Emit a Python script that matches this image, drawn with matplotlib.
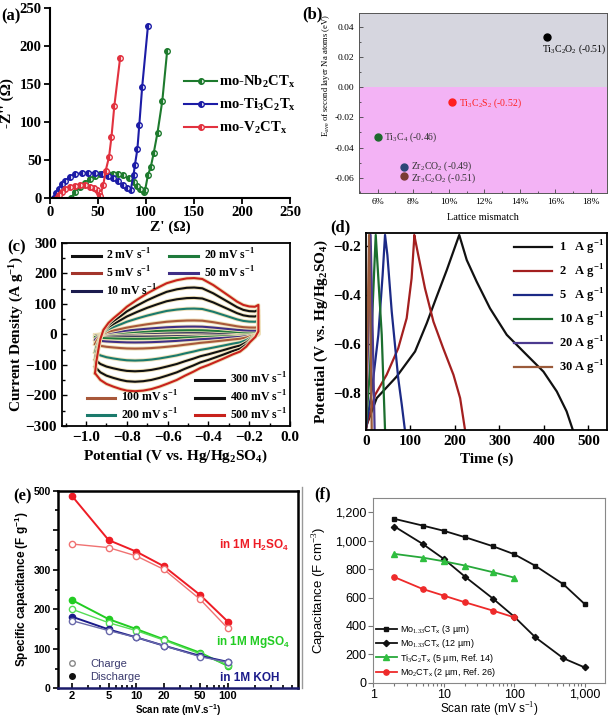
import matplotlib
matplotlib.use('Agg')
import matplotlib.pyplot as plt
import matplotlib.patheffects as pe
from matplotlib.lines import Line2D
from matplotlib.ticker import FuncFormatter, NullFormatter, LogLocator, MultipleLocator, FixedLocator

plt.rcParams['font.family'] = 'Liberation Serif'
plt.rcParams['mathtext.fontset'] = 'custom'
plt.rcParams['mathtext.rm'] = 'Liberation Serif'
plt.rcParams['mathtext.bf'] = 'Liberation Serif:bold'
plt.rcParams['mathtext.it'] = 'Liberation Sans'
plt.rcParams['mathtext.sf'] = 'Liberation Sans:bold'

# ══════════════════════════════════════════════
# DATOS
# ══════════════════════════════════════════════

# (a) Nyquist
nb_re = [22, 26, 31, 36, 42, 47, 52, 59, 66, 71, 76, 82, 87, 91, 94, 98, 99, 102, 105, 108, 112, 117, 122]
nb_im = [0, 8, 15, 20, 25, 29, 32, 33, 32, 31, 30, 26, 21, 16, 12, 8, 10, 30, 41, 59, 86, 128, 193]
ti_re = [4, 6, 9, 12, 16, 21, 26, 33, 40, 47, 54, 60, 66, 71, 76, 80, 84, 87, 88.5, 91, 93, 96, 102]
ti_im = [0, 6, 12, 18, 23, 28, 31, 33, 33, 33, 32, 29, 26, 22, 17, 13, 10, 30, 44, 64, 96, 146, 226]
v_re = [7, 9, 12, 16, 21, 26, 31, 36, 42, 46, 49, 51, 52, 55.5, 58, 61.5, 64, 67, 73]
v_im = [0, 4, 8, 12, 14.5, 16, 17, 17, 15, 13, 10, 6, 2, 17, 36, 54, 80, 121, 184]

# (b) energia vs mismatch
mismatch = [15.5, 10.2, 6.0, 7.5, 7.5]
e_ave = [0.033, -0.010, -0.033, -0.053, -0.059]
nombres_b = ['Ti$_\\mathrm{3}$C$_\\mathrm{2}$O$_\\mathrm{2}$ (-0.51)',
             'Ti$_\\mathrm{3}$C$_\\mathrm{2}$S$_\\mathrm{2}$ (-0.52)',
             'Ti$_\\mathrm{3}$C$_\\mathrm{4}$ (-0.46)',
             'Zr$_\\mathrm{2}$CO$_\\mathrm{2}$ (-0.49)',
             'Zr$_\\mathrm{3}$C$_\\mathrm{2}$O$_\\mathrm{2}$ (-0.51)']

# (c) CV, curva de 500 mV/s y corriente pico de cada velocidad
cv_x_up = [-0.956, -0.95, -0.94, -0.93, -0.915, -0.89, -0.866, -0.83, -0.80, -0.75, -0.70, -0.65, -0.605,
           -0.555, -0.506, -0.47, -0.43, -0.376, -0.335, -0.294, -0.26, -0.229, -0.20, -0.172, -0.155]
cv_y_up = [-127, -90, -51, -15, 15, 38, 53, 73, 91, 114, 135, 153, 168, 178, 184, 185, 182, 162, 143, 124,
           108, 97, 92, 91, 97]
cv_x_dn = [-0.956, -0.93, -0.90, -0.866, -0.83, -0.80, -0.76, -0.72, -0.68, -0.64, -0.60, -0.555, -0.515,
           -0.474, -0.44, -0.40, -0.33, -0.28, -0.245, -0.215, -0.196, -0.17, -0.155]
cv_y_dn = [-127, -149, -162, -171, -179, -184, -186, -184, -179, -171, -161, -149, -135, -122, -110, -100,
           -80, -65, -56, -40, -25, -8, 10]
rates = [2, 5, 10, 20, 50, 100, 200, 300, 400, 500]
picos = [2, 4, 7, 14, 26, 46, 85, 120, 154, 185]
colores_c = ['#111111', '#a3352b', '#1c1c4e', '#1f7a3c', '#3f2f86', '#a8583a', '#1b7a6c',
             '#111111', '#111111', '#c8221c']

# (d) GCD
t_1 = [0, 2.2, 24.7, 69.6, 110.8, 137, 159.4, 182, 200.6, 210, 226.8, 249, 279, 316.6, 361.5, 399, 429, 451, 465]
v_1 = [-0.95, -0.929, -0.820, -0.732, -0.630, -0.515, -0.406, -0.298, -0.203, -0.155, -0.257, -0.345,
       -0.454, -0.562, -0.644, -0.712, -0.793, -0.874, -0.95]
t_2 = [0, 4.5, 21, 47, 73, 92, 103, 108.5, 109, 118, 133, 152, 174, 197, 212, 223]
v_2 = [-0.95, -0.915, -0.807, -0.725, -0.617, -0.494, -0.332, -0.18, -0.155, -0.237, -0.372, -0.508,
       -0.617, -0.725, -0.82, -0.95]
t_5 = [0, 0.7, 13.5, 28.4, 38, 43.4, 48.7, 58.4, 73, 81, 88]
v_5 = [-0.95, -0.942, -0.793, -0.562, -0.318, -0.155, -0.237, -0.467, -0.739, -0.847, -0.95]
t_10 = [0, 9.7, 22.5, 36, 43.4]
v_10 = [-0.95, -0.698, -0.155, -0.562, -0.95]
t_20 = [0, 5, 11, 16, 20]
v_20 = [-0.95, -0.62, -0.155, -0.58, -0.95]
t_30 = [0, 3.5, 7.5, 11, 13.5]
v_30 = [-0.95, -0.60, -0.155, -0.58, -0.95]

# (e) capacitancia especifica
scan_e = [2, 5, 10, 20, 50, 100]
h2so4_dis = [486, 375, 346, 309, 236, 169]
h2so4_ch = [365, 356, 335, 301, 225, 152]
mgso4_dis = [223, 175, 150, 124, 90, 57]
mgso4_ch = [200, 166, 146, 122, 87, 59]
koh_dis = [181, 149, 129, 108, 82, 67]
koh_ch = [171, 146, 129, 108, 80, 66]

# (f) capacitancia volumetrica
scan_f = [2, 5, 10, 20, 50, 100, 200, 500, 1000]
mo_3um = [1155, 1108, 1071, 1026, 962, 906, 824, 694, 555]
mo_12um = [1101, 979, 873, 748, 593, 466, 320, 172, 108]
scan_f2 = [2, 5, 10, 20, 50, 100]
ti3c2 = [908, 882, 856, 826, 779, 741]
mo2c = [744, 661, 614, 567, 508, 461]

# ══════════════════════════════════════════════
# FIGURA
# ══════════════════════════════════════════════

W, H = 612, 719
fig = plt.figure(figsize=(6.12, 7.19), dpi=100)


def rect(l, t, r, b):
    return [l / W, 1 - b / H, (r - l) / W, (b - t) / H]


def negrita(ax, fam=None):
    for l in ax.get_xticklabels() + ax.get_yticklabels():
        l.set_fontweight('bold')
        if fam:
            l.set_family(fam)


def etiqueta(x, y, s, fam='Liberation Serif'):
    fig.text(x / W, 1 - y / H, s, fontsize=12, fontweight='bold', family=fam, ha='center', va='center')


# ---------- (a) ----------
ax = fig.add_axes(rect(50, 8, 290, 198))
for xr, yi, c, lab in [(nb_re, nb_im, '#1d7a2d', 'mo-Nb$_\\mathbf{2}$CT$_\\mathbf{x}$'),
                       (ti_re, ti_im, '#1c1ca6', 'mo-Ti$_\\mathbf{3}$C$_\\mathbf{2}$T$_\\mathbf{x}$'),
                       (v_re, v_im, '#e2323f', 'mo-V$_\\mathbf{2}$CT$_\\mathbf{x}$')]:
    ax.plot(xr, yi, '-o', color=c, lw=1.5, ms=4, fillstyle='left', markerfacecoloralt='white',
            mec=c, mew=1, label=lab)
ax.set_xlim(0, 250)
ax.set_ylim(0, 250)
ax.set_xticks(range(0, 251, 50))
ax.set_yticks(range(0, 251, 50))
ax.spines[['top', 'right']].set_visible(False)
ax.spines[['left', 'bottom']].set_linewidth(1.5)
ax.tick_params(direction='out', width=1.3, length=4, labelsize=10.5, pad=2)
negrita(ax)
ax.set_xlabel("Z' (Ω)", fontsize=11, fontweight='bold', labelpad=1)
ax.set_ylabel("-Z'' (Ω)", fontsize=11, fontweight='bold', labelpad=4)
ax.legend(loc='center left', bbox_to_anchor=(0.53, 0.49), frameon=False,
          prop={'weight': 'bold', 'size': 10.5}, handlelength=2.2, handletextpad=0.2,
          labelspacing=0.45, borderpad=0)
etiqueta(11, 16, '(a)')

# ---------- (b) ----------
ax = fig.add_axes(rect(359, 13, 607, 193))
ax.axhspan(0, 0.05, color='#d6d6df', lw=0)
ax.axhspan(-0.07, 0, color='#f3b3f5', lw=0)
col_b = ['#000000', '#ff1f1f', '#1c6a2c', '#2c4677', '#7a3b33']
txt_b = ['#000000', '#ff1f1f', '#333333', '#333333', '#333333']
off_b = [(-3, -9), (4.5, -0.5), (4.5, -0.5), (4.5, 1), (4.5, -1.5)]
for x, y, n, c, tc, o in zip(mismatch, e_ave, nombres_b, col_b, txt_b, off_b):
    ax.plot(x, y, 'o', color=c, ms=5)
    ax.annotate(n, (x, y), xytext=o, textcoords='offset points', fontsize=7, color=tc,
                va='center', ha='left')
ax.set_xlim(4.95, 18.9)
ax.set_ylim(-0.07, 0.049)
ax.set_xticks([6, 8, 10, 12, 14, 16, 18])
ax.set_xticklabels([f'{v}%' for v in [6, 8, 10, 12, 14, 16, 18]])
ax.xaxis.set_minor_locator(MultipleLocator(1))
ax.set_yticks([0.04, 0.02, 0.0, -0.02, -0.04, -0.06])
ax.set_yticklabels(['0.04', '0.02', '0.00', '-0.02', '-0.04', '-0.06'])
ax.yaxis.set_minor_locator(MultipleLocator(0.01))
ax.tick_params(which='both', direction='in', labelsize=6.8, width=0.6, color='#444')
ax.tick_params(which='major', length=3)
ax.tick_params(which='minor', length=1.5)
for s in ax.spines.values():
    s.set_color('#555')
    s.set_linewidth(0.7)
ax.set_xlabel('Lattice mismatch', fontsize=7.5, labelpad=5)
ax.set_ylabel('E$_\\mathrm{ave}$ of second layer Na atoms (eV)', fontsize=6.2)
ax.yaxis.set_label_coords(-0.11, 0.655)
etiqueta(312, 14, '(b)')

# ---------- (c) ----------
ax = fig.add_axes(rect(62, 243, 290, 426))
h_c = []
halo = [pe.Stroke(linewidth=2.8, foreground='#eee0b8'), pe.Normal()]
for r, p, c in zip(rates, picos, colores_c):
    k = p / 185
    xs = cv_x_up + cv_x_dn[::-1]
    ys = [y * k for y in cv_y_up] + [y * k for y in cv_y_dn[::-1]]
    ax.plot(xs, ys, color=c, lw=1.5, zorder=3 + r / 1000, path_effects=halo)
    h_c.append(Line2D([], [], color=c, lw=2.2))
ax.set_xlim(-1.118, 0.0)
ax.set_ylim(-300, 300)
ax.set_xticks([-1.0, -0.8, -0.6, -0.4, -0.2, 0.0])
ax.set_yticks(range(-300, 301, 100))
ax.xaxis.set_minor_locator(MultipleLocator(0.1))
ax.yaxis.set_minor_locator(MultipleLocator(50))
ax.tick_params(which='both', direction='in', labelsize=11, width=1)
ax.tick_params(which='minor', length=2)
for s in ax.spines.values():
    s.set_linewidth(1.3)
negrita(ax)
ax.set_xlabel('Potential (V vs. Hg/Hg$_\\mathbf{2}$SO$_\\mathbf{4}$)', fontsize=11, fontweight='bold', labelpad=3)
ax.set_ylabel('Current Density (A g$^\\mathbf{-1}$)', fontsize=11, fontweight='bold', labelpad=0)
lab_c = [f'{r} mV s$^\\mathbf{{-1}}$' for r in rates]
legp = dict(frameon=False, prop={'weight': 'bold', 'size': 8.5}, handlelength=2.4, handletextpad=0.5,
            labelspacing=0.2, borderpad=0, borderaxespad=0)
l1 = ax.legend(h_c[:5], lab_c[:5], loc='upper left', bbox_to_anchor=(0.045, 0.975), ncol=2,
               columnspacing=1.0, **legp)
ax.add_artist(l1)
l2 = ax.legend(h_c[5:7], lab_c[5:7], loc='lower left', bbox_to_anchor=(0.11, 0.02), **legp)
ax.add_artist(l2)
ax.legend(h_c[7:], lab_c[7:], loc='lower right', bbox_to_anchor=(0.985, 0.02), **legp)
etiqueta(17, 247, '(c)')

# ---------- (d) ----------
ax = fig.add_axes(rect(365.7, 233, 606.7, 430))
gcd = [(t_1, v_1, '#111111', '1   A g'), (t_2, v_2, '#a31f1f', '2   A g'), (t_5, v_5, '#1c2a86', '5   A g'),
       (t_10, v_10, '#1b6e2e', '10 A g'), (t_20, v_20, '#4b3a8f', '20 A g'), (t_30, v_30, '#9a5a3a', '30 A g')]
for t, v, c, lab in gcd:
    ax.plot(t, v, color=c, lw=1.6, label=lab + '$^\\mathbf{-1}$')
ax.set_xlim(0, 541)
ax.set_ylim(-0.95, -0.147)
ax.set_xticks(range(0, 501, 100))
ax.set_yticks([-0.8, -0.6, -0.4, -0.2])
ax.tick_params(direction='in', labelsize=11, width=1)
for s in ax.spines.values():
    s.set_linewidth(1.3)
negrita(ax)
ax.set_xlabel('Time (s)', fontsize=11, fontweight='bold', labelpad=3)
ax.set_ylabel('Potential (V vs. Hg/Hg$_\\mathbf{2}$SO$_\\mathbf{4}$)', fontsize=11, fontweight='bold',
              labelpad=2)
ax.legend(loc='upper right', bbox_to_anchor=(0.99, 0.97), frameon=False,
          prop={'weight': 'bold', 'size': 9}, handlelength=3.0, handletextpad=0.6,
          labelspacing=0.45, borderpad=0, borderaxespad=0)
etiqueta(340, 227, '(d)')

# ---------- (e) ----------
ax = fig.add_axes(rect(58.3, 490.7, 298, 688.3))
series_e = [(h2so4_dis, '#ee1c25', True), (h2so4_ch, '#f07272', False),
            (mgso4_dis, '#22cc22', True), (mgso4_ch, '#55dd55', False),
            (koh_dis, '#1a1a8a', True), (koh_ch, '#6a6aaa', False)]
for y, c, lleno in series_e:
    ax.plot(scan_e, y, '-o', color=c, lw=1.4 if lleno else 1.0, ms=4.5,
            mfc=c if lleno else 'white', mec=c, mew=1)
ax.set_xscale('log')
ax.set_xlim(1.41, 586)
ax.set_ylim(0, 500)
ax.set_xticks(scan_e)
ax.set_xticklabels([str(s) for s in scan_e])
ax.xaxis.set_minor_locator(LogLocator(subs=range(2, 10)))
ax.xaxis.set_minor_formatter(NullFormatter())
ax.set_yticks([0, 100, 200, 300, 400, 500])
ax.set_yticklabels(['0', '100', '200', '300', '', '500'])
ax.yaxis.set_minor_locator(MultipleLocator(50))
ax.tick_params(axis='y', which='both', direction='out', labelsize=7.5, width=1.2, pad=2)
ax.tick_params(axis='x', which='both', direction='in', labelsize=8, width=1.2, pad=2)
ax.tick_params(which='minor', length=2)
negrita(ax, 'Liberation Sans')
for k in ['left', 'top', 'right']:
    ax.spines[k].set_linewidth(1.8)
ax.spines['bottom'].set_linewidth(1.8)
ax.spines['bottom'].set_color('#1a1a6a')
ax.set_xlabel('Scan rate (mV.s$^\\mathsf{-1}$)', fontsize=7, fontweight='bold', family='Liberation Sans',
              labelpad=1)
ax.set_ylabel('Specific capacitance (F g$^\\mathsf{-1}$)', fontsize=8.5, fontweight='bold',
              family='Liberation Sans', labelpad=2)
kw = dict(fontsize=8.5, fontweight='bold', family='Liberation Sans', ha='left', va='center',
          transform=ax.transAxes)
ax.text(0.670, 0.725, 'in 1M H$_\\mathsf{2}$SO$_\\mathsf{4}$', color='#ee1c25', **kw)
ax.text(0.658, 0.236, 'in 1M MgSO$_\\mathsf{4}$', color='#22cc22', **kw)
ax.text(0.675, 0.052, 'in 1M KOH', color='#1a1a8a', **kw)
hx = [Line2D([], [], ls='', marker='o', ms=4, mfc='white', mec='#888888'),
      Line2D([], [], ls='', marker='o', ms=4, mfc='#111111', mec='#111111')]
leg = ax.legend(hx, ['Charge', 'Discharge'], loc='lower left', bbox_to_anchor=(0.012, 0.03), frameon=False,
                prop={'family': 'Liberation Sans', 'size': 8}, handletextpad=0.6, labelspacing=0.3,
                borderpad=0, borderaxespad=0)
for t in leg.get_texts():
    t.set_color('#3b3b6e')
etiqueta(23, 496, '(e)')

# ---------- (f) ----------
ax = fig.add_axes(rect(373.3, 498.3, 605, 682.7))
ax.plot(scan_f, mo_3um, '-s', color='#111111', lw=1.3, ms=3.5,
        label='Mo$_\\mathit{1.33}$CT$_\\mathit{x}$ (3 µm)')
ax.plot(scan_f, mo_12um, '-D', color='#111111', lw=1.3, ms=3.2,
        label='Mo$_\\mathit{1.33}$CT$_\\mathit{x}$ (12 µm)')
ax.plot(scan_f2, ti3c2, '-^', color='#27a83a', mfc='#2fbf3f', mec='#2fbf3f', lw=1.3, ms=4,
        label='Ti$_\\mathit{3}$C$_\\mathit{2}$T$_\\mathit{x}$ (5 µm, Ref. 14)')
ax.plot(scan_f2, mo2c, '-o', color='#ee2a2a', lw=1.3, ms=3.8,
        label='Mo$_\\mathit{2}$CT$_\\mathit{x}$ (2 µm, Ref. 26)')
ax.set_xscale('log')
ax.set_xlim(1, 1950)
ax.set_ylim(0, 1300)
ax.set_yticks(range(0, 1201, 200))
ax.yaxis.set_major_formatter(FuncFormatter(lambda v, p: f'{v:,.0f}'))
ax.xaxis.set_major_locator(FixedLocator([1, 10, 100, 1000]))
ax.xaxis.set_major_formatter(FuncFormatter(lambda v, p: f'{v:,.0f}'))
ax.xaxis.set_minor_locator(LogLocator(subs=range(2, 10)))
ax.xaxis.set_minor_formatter(NullFormatter())
ax.tick_params(which='both', direction='out', labelsize=9, color='#777', width=0.8, pad=1.5)
ax.tick_params(axis='x', which='both', length=3)
ax.tick_params(which='minor', length=2)
for l in ax.get_xticklabels() + ax.get_yticklabels():
    l.set_family('Liberation Sans')
for s in ax.spines.values():
    s.set_color('#888888')
    s.set_linewidth(0.8)
ax.set_xlabel('Scan rate (mV s$^\\mathit{-1}$)', fontsize=8.5, family='Liberation Sans')
ax.xaxis.set_label_coords(0.5, -0.1)
ax.set_ylabel('Capacitance (F cm$^\\mathit{-3}$)', fontsize=9.5, family='Liberation Sans', labelpad=4)
ax.legend(loc='lower left', bbox_to_anchor=(0.01, 0.02), frameon=False,
          prop={'family': 'Liberation Sans', 'size': 6.5}, handlelength=2.4, handletextpad=0.3,
          labelspacing=0.15, borderpad=0, borderaxespad=0)
etiqueta(323, 494, '(f)')

# linea de borde de la imagen (f)
fig.add_artist(Line2D([301.7 / W, 301.7 / W], [1 - 487 / H, 1 - 688 / H], color='#999999', lw=1))

fig.savefig('out.png', dpi=100)
